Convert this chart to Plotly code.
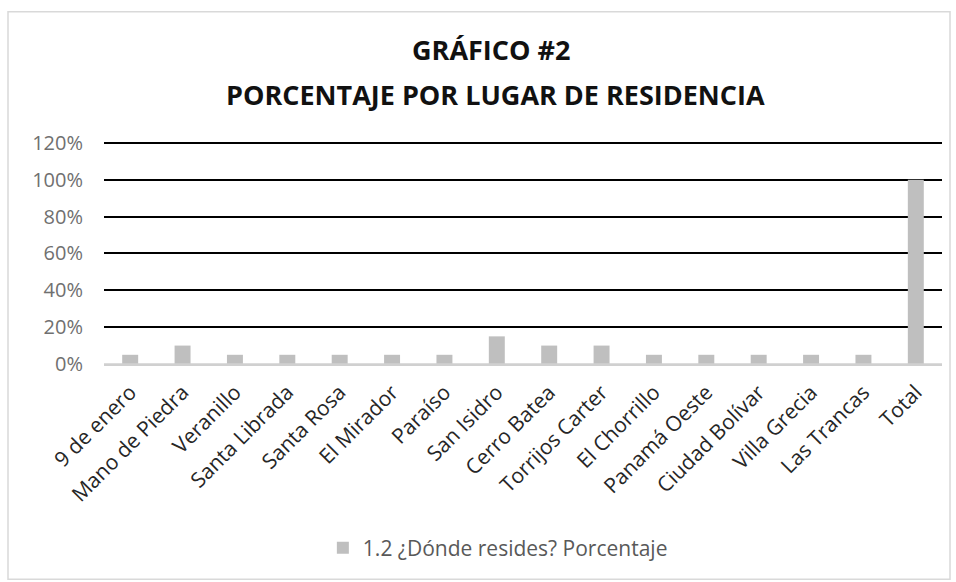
import plotly.graph_objects as go

categories = ["9 de enero", "Mano de Piedra", "Veranillo", "Santa Librada", "Santa Rosa",
              "El Mirador", "Paraíso", "San Isidro", "Cerro Batea", "Torrijos Carter",
              "El Chorrillo", "Panamá Oeste", "Ciudad Bolívar", "Villa Grecia", "Las Trancas", "Total"]
values = [0.05, 0.10, 0.05, 0.05, 0.05, 0.05, 0.05, 0.15, 0.10, 0.10,
          0.05, 0.05, 0.05, 0.05, 0.05, 1.00]
series_name = "1.2 ¿Dónde resides? Porcentaje"
title_line1 = "GRÁFICO #2"
title_line2 = "PORCENTAJE POR LUGAR DE RESIDENCIA"
y_ticks = [0, 0.2, 0.4, 0.6, 0.8, 1.0, 1.2]
y_tick_labels = ["0%", "20%", "40%", "60%", "80%", "100%", "120%"]

W, H = 956, 582
Y_MAX = 1.2
Y_TOP = 1.21          # small headroom so the 120% gridline is drawn
L, R, B = 104, 14, 218
PLOT_PX_120 = 221     # pixels from 0% to 120%
ph = PLOT_PX_120 * Y_TOP / Y_MAX
T = H - B - ph
pw = W - L - R

def px(x):
    return (x - L) / pw

def py(y):
    return (H - B - y) / ph

FONT = "Open Sans, Lato, sans-serif"

fig = go.Figure()
fig.add_trace(go.Bar(x=categories, y=values, name=series_name,
                     marker=dict(color="#BFBFBF", line=dict(width=0))))

fig.update_layout(
    width=W, height=H,
    margin=dict(l=L, r=R, t=T, b=B, pad=0),
    paper_bgcolor="white", plot_bgcolor="white",
    bargap=0.695,
    font=dict(family=FONT, color="#595959"),
    showlegend=True,
    legend=dict(orientation="h", x=0.47, xanchor="center", y=py(548), yanchor="middle",
                font=dict(size=21, color="#595959"), itemwidth=30),
    xaxis=dict(tickangle=-45, tickfont=dict(size=21, color="#262626"),
               showgrid=False, showline=True, linecolor="#D0D0D0", linewidth=1.5,
               ticks="", ticklabelstandoff=6),
    yaxis=dict(range=[0, Y_TOP], tickvals=y_ticks, ticktext=y_tick_labels,
               tickfont=dict(size=20, color="#707070"), ticklabelstandoff=20,
               showgrid=True, gridcolor="black", gridwidth=2,
               zeroline=False, showline=False, ticks="", ticklen=0),
    annotations=[
        dict(text="<b>" + title_line1 + "</b>", xref="paper", yref="paper",
             x=px(491), y=py(50), xanchor="center", yanchor="middle", showarrow=False,
             font=dict(size=27, color="#111111", family=FONT)),
        dict(text="<b>" + title_line2 + "</b>", xref="paper", yref="paper",
             x=px(495), y=py(95), xanchor="center", yanchor="middle", showarrow=False,
             font=dict(size=27, color="#111111", family=FONT)),
    ],
    shapes=[dict(type="rect", xref="paper", yref="paper",
                 x0=px(8), x1=px(950), y0=py(579), y1=py(12),
                 line=dict(color="#D9D9D9", width=1.5), layer="below")],
)
fig.add_shape(type="line", xref="paper", yref="y", x0=0, x1=1, y0=0, y1=0,
              line=dict(color="#D0D0D0", width=1.5), layer="above")

fig.write_html("out.html", config={"displayModeBar": False},
               post_script="document.body.style.margin='0px';")
